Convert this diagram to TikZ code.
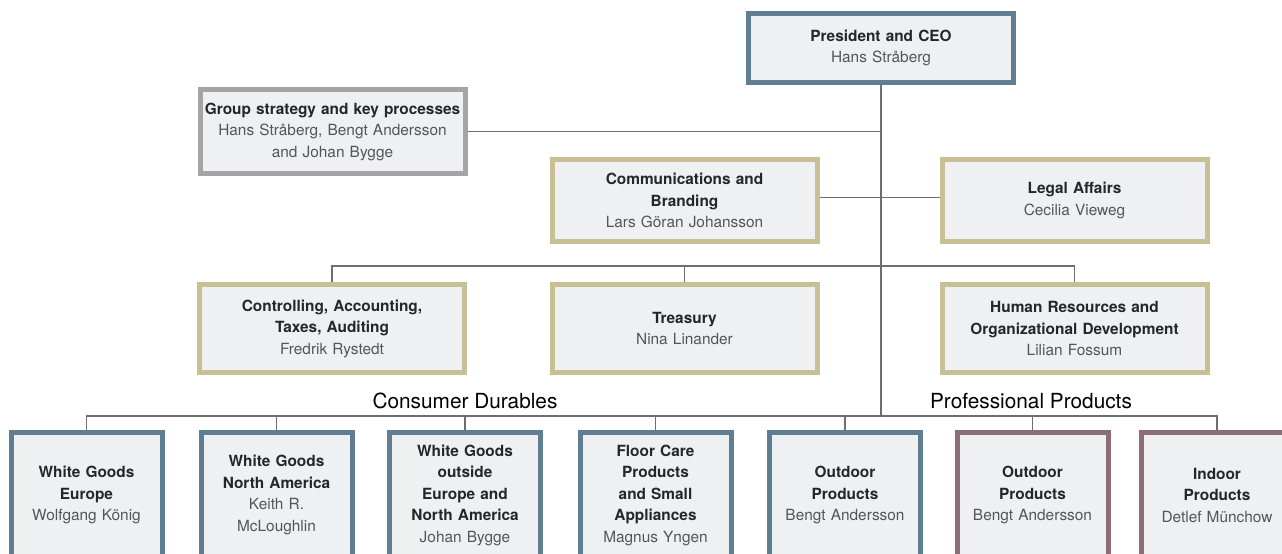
\documentclass[tikz,border=0pt]{standalone}
\usepackage{fontspec}
\setmainfont{TeX Gyre Heros}
\usetikzlibrary{positioning}

\definecolor{ink}{HTML}{262626}
\definecolor{namegray}{HTML}{555555}
\definecolor{wire}{HTML}{6E6E6E}
\definecolor{boxfill}{HTML}{EFF0F2}
\definecolor{steel}{HTML}{5F7D93}
\definecolor{sand}{HTML}{C8BF94}
\definecolor{pebble}{HTML}{A4A4A6}
\definecolor{mauve}{HTML}{8C6C76}

% bold heading inside a box, the name below stays gray
\newcommand{\hd}[1]{{\color{ink}\bfseries #1}}

\tikzset{
  orgbox/.style={draw=steel, fill=boxfill, line width=5pt, text=namegray,
                 align=center, inner sep=0pt,
                 font=\fontsize{15.4}{21.5}\selectfont},
  headbox/.style={orgbox, minimum width=265pt, minimum height=69pt, text width=258pt},
  staffbox/.style={orgbox, draw=sand, minimum width=265pt, minimum height=84pt, text width=258pt},
  unitbox/.style={orgbox, minimum width=151pt, minimum height=125pt, text width=147pt},
  link/.style={draw=wire, line width=1.3pt},
  group/.style={font=\fontsize{20.8}{24}\selectfont, text=black}
}

\begin{document}
\begin{tikzpicture}[x=1pt,y=-1pt]
  \useasboundingbox (0,0) rectangle (1282,554);

  % top of the tree
  \node[headbox] (ceo) at (881,48) {\hd{President and CEO}\\Hans Stråberg};
  \node[staffbox, draw=pebble] (strategy) at (332.5,131.5)
       {\hd{Group strategy and key processes}\\Hans Stråberg, Bengt Andersson\\and Johan Bygge};

  % staff functions
  \node[staffbox, minimum height=82pt] (comms) at (684.5,200.5)
       {\hd{Communications and\\Branding}\\Lars Göran Johansson};
  \node[staffbox, minimum height=82pt] (legal) at (1074.5,200.5)
       {\hd{Legal Affairs}\\Cecilia Vieweg};
  \node[staffbox, minimum height=88pt] (control) at (332,328.5)
       {\hd{Controlling, Accounting,\\Taxes, Auditing}\\Fredrik Rystedt};
  \node[staffbox, minimum height=88pt] (treasury) at (684.5,328.5)
       {\hd{Treasury}\\Nina Linander};
  \node[staffbox, minimum height=88pt] (hr) at (1074.5,328.5)
       {\hd{Human Resources and\\Organizational Development}\\Lilian Fossum};

  % business areas
  \node[unitbox] (wgeur) at (86.5,495) {\hd{White Goods\\Europe}\\Wolfgang König};
  \node[unitbox] (wgna) at (276.5,495) {\hd{White Goods\\North America}\\Keith R.\\McLoughlin};
  \node[unitbox] (wgoth) at (465,495) {\hd{White Goods\\outside\\Europe and\\North America}\\Johan Bygge};
  \node[unitbox] (floor) at (655.5,495) {\hd{Floor Care\\Products\\and Small\\Appliances}\\Magnus Yngen};
  \node[unitbox] (outdoor) at (845,495) {\hd{Outdoor\\Products}\\Bengt Andersson};
  \node[unitbox, draw=mauve] (proout) at (1032.5,495) {\hd{Outdoor\\Products}\\Bengt Andersson};
  \node[unitbox, draw=mauve] (proin) at (1217,495) {\hd{Indoor\\Products}\\Detlef Münchow};

  \node[group] (consumer) at (465,401) {Consumer Durables};
  \node[group] (professional) at (1031,401) {Professional Products};

  % connectors
  \coordinate (midbus) at (0,266);
  \coordinate (lowbus) at (0,416);
  \draw[link] (ceo.south) -- (ceo.south |- lowbus);
  \draw[link] (strategy.east) -- (strategy.east -| ceo.south);
  \draw[link] ([yshift=3pt]comms.east) -- ([yshift=3pt]legal.west);
  \draw[link] (control.north) |- (midbus -| hr.north) -- (hr.north);
  \draw[link] (treasury.north) -- (treasury.north |- midbus);
  \draw[link] (wgeur.north) |- (lowbus -| proin.north) -- (proin.north);
  \foreach \u in {wgna,wgoth,floor,outdoor,proout}
    \draw[link] (\u.north) -- (\u.north |- lowbus);
\end{tikzpicture}
\end{document}
